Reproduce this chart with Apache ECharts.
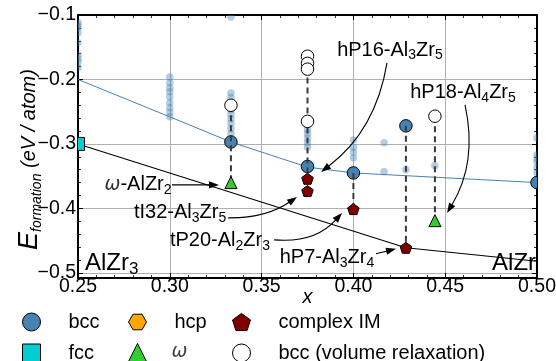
<!DOCTYPE html>
<html><head><meta charset="utf-8">
<script src="https://cdn.jsdelivr.net/npm/echarts@6/dist/echarts.min.js"></script>
<style>html,body{margin:0;padding:0;background:#fff}#c{width:556px;height:361px}</style>
</head><body><div id="c"></div>
<script>
// ---------- data ----------
const xTickLabels = ['0.25','0.30','0.35','0.40','0.45','0.50'];
const yTickLabels = ['−0.5','−0.4','−0.3','−0.2','−0.1'];

// other (higher-energy) structures, faint points
const otherPts = [
  [0.25,-0.112],[0.25,-0.116],[0.25,-0.120],[0.25,-0.128],[0.25,-0.143],[0.25,-0.162],[0.25,-0.168],[0.25,-0.173],[0.25,-0.182],
  [0.30,-0.196],[0.30,-0.205],[0.30,-0.213],[0.30,-0.219],[0.30,-0.227],[0.30,-0.236],[0.30,-0.244],[0.30,-0.251],[0.30,-0.258],
  [0.3333,-0.103],[0.3333,-0.221],[0.3333,-0.228],[0.3333,-0.247],[0.3333,-0.254],[0.3333,-0.261],[0.3333,-0.268],[0.3333,-0.276],[0.3333,-0.284],
  [0.375,-0.278],[0.375,-0.284],[0.375,-0.291],[0.375,-0.298],[0.375,-0.305],
  [0.4,-0.294],[0.4,-0.305],[0.4,-0.313],[0.4,-0.322],
  [0.4167,-0.298],[0.4167,-0.343],
  [0.4286,-0.340],
  [0.4444,-0.334],
  [0.5,-0.291],[0.5,-0.317],[0.5,-0.323],[0.5,-0.328],[0.5,-0.337],[0.5,-0.345]
];
const bccPts = [[0.3333,-0.297],[0.375,-0.335],[0.4,-0.345],[0.4286,-0.272],[0.5,-0.36]];
const fccPts = [[0.25,-0.30]];
const hcpPts = [];
const omegaPts = [[0.3333,-0.36],[0.4444,-0.419]];
const complexPts = [[0.375,-0.354],[0.375,-0.373],[0.4,-0.401],[0.4286,-0.461]];
const volRelaxPts = [[0.3333,-0.24],[0.375,-0.164],[0.375,-0.175],[0.375,-0.184],[0.375,-0.265],[0.4444,-0.257]];
const bccLinePts = [[0.25,-0.20],[0.30,-0.258],[0.3333,-0.297],[0.375,-0.336],[0.4,-0.345],[0.5,-0.36]];
const hullPts = [[0.25,-0.30],[0.4286,-0.461],[0.5,-0.482]];
// composition, top energy, bottom energy of dashed connectors
const dropLines = [[0.3333,-0.24,-0.36],[0.375,-0.166,-0.373],[0.4,-0.345,-0.401],[0.4286,-0.272,-0.461],[0.4444,-0.257,-0.419]];

// annotations
const annTexts = ['hP16-Al{s|3}Zr{s|5}','hP18-Al{s|4}Zr{s|5}','{w|ω}-AlZr{s|2}','tI32-Al{s|3}Zr{s|5}','tP20-Al{s|2}Zr{s|3}','hP7-Al{s|3}Zr{s|4}'];
const annTextAt = [[0.4199,-0.1543],[0.4597,-0.2209],[0.2827,-0.3636],[0.3056,-0.407],[0.3273,-0.4504],[0.3856,-0.4767]];
const annFrom = [[0.4183,-0.1744],[0.4608,-0.2395],[0.3012,-0.3636],[0.3317,-0.4147],[0.3568,-0.4488],[0.4123,-0.4705]];
const annTo = [[0.3824,-0.3434],[0.4510,-0.407],[0.3268,-0.3636],[0.3693,-0.3822],[0.3938,-0.407],[0.4232,-0.4628]];
const annRad = [0.2,0.2,0,-0.16,-0.25,0];
const phaseTexts = ['AlZr{s|3}','AlZr'];
const phaseAt = [[0.2538,-0.4854],[0.4995,-0.4854]];

// ---------- styling / helpers ----------
const FONT = 'Liberation Sans, Arial, Helvetica, sans-serif';
const C_BCC = '#4682B4', C_FCC = '#00CED1', C_HCP = '#FFA500', C_CIM = '#800000', C_OM = '#32CD32';
const PENT = 'path://M50,0 L97.55,34.55 L79.39,90.45 L20.61,90.45 L2.45,34.55 Z';
const HEX = 'path://M0,43.3 L25,0 L75,0 L100,43.3 L75,86.6 L25,86.6 Z';
const SQR = 'path://M0,0 L100,0 L100,100 L0,100 Z';
const TRI = 'path://M50,0 L100,100 L0,100 Z';

function regPoly(p, r, n, rot) {
  const pts = [];
  for (let i = 0; i < n; i++) {
    const a = rot + i * 2 * Math.PI / n;
    pts.push([p[0] + r * Math.sin(a), p[1] - r * Math.cos(a)]);
  }
  return pts;
}
const shapes = {
  circle: (p, s, st) => ({type:'circle', shape:{cx:p[0], cy:p[1], r:s/2}, style:st}),
  square: (p, s, st) => ({type:'rect', shape:{x:p[0]-s/2, y:p[1]-s/2, width:s, height:s}, style:st}),
  triangle: (p, s, st) => ({type:'polygon', shape:{points:[[p[0], p[1]-s/2],[p[0]+s/2, p[1]+s/2],[p[0]-s/2, p[1]+s/2]]}, style:st}),
  pentagon: (p, s, st) => ({type:'polygon', shape:{points:regPoly([p[0], p[1]+s*0.06], s*0.55, 5, 0)}, style:st}),
  hexagon: (p, s, st) => ({type:'polygon', shape:{points:regPoly(p, s*0.55, 6, Math.PI/2)}, style:st})
};
function markerSeries(name, data, shape, size, style, z) {
  return {
    type:'custom', name, data, z, clip:true,
    itemStyle:{color: style.fill},
    encode:{x:0, y:1},
    renderItem:(params, api) => {
      const p = api.coord([api.value(0), api.value(1)]);
      return shapes[shape](p, size, style);
    }
  };
}
const edge = {stroke:'#000', lineWidth:1};

function arrowEls(p0, p1, rad) {
  const dx = p1[0]-p0[0], dy = p1[1]-p0[1];
  const mx = (p0[0]+p1[0])/2, my = (p0[1]+p1[1])/2;
  const c = [mx + rad*dy, my - rad*dx];
  let tx = p1[0]-c[0], ty = p1[1]-c[1];
  const L = Math.hypot(tx, ty); tx /= L; ty /= L;
  const hl = 10, hw = 3.6;
  const base = [p1[0]-tx*hl, p1[1]-ty*hl];
  return [
    {type:'bezierCurve', shape:{x1:p0[0], y1:p0[1], x2:base[0]+tx*1, y2:base[1]+ty*1, cpx1:c[0], cpy1:c[1]}, style:{stroke:'#000', fill:null, lineWidth:1.1}},
    {type:'polygon', shape:{points:[p1,[base[0]-ty*hw, base[1]+tx*hw],[base[0]+ty*hw, base[1]-tx*hw]]}, style:{fill:'#000'}}
  ];
}

const subRich = {
  s:{fontSize:14, lineHeight:14, verticalAlign:'bottom', fontFamily:FONT, fill:'#000'},
  w:{fontSize:19, lineHeight:24, fontStyle:'italic', fontFamily:'DejaVu Sans', fill:'#333'}
};

const axisTickStyle = {show:true, inside:true, length:5, lineStyle:{color:'#000', width:1}};
const minorTickStyle = {show:true, splitNumber:5, length:3, lineStyle:{color:'#000', width:0.8}};
const axisLineStyle = {show:true, onZero:false, lineStyle:{color:'#000', width:2}};
const labelStyle = {fontSize:19.5, color:'#000', fontFamily:FONT};

const yBase = {type:'value', min:-0.508, max:-0.1, minInterval:0.1, maxInterval:0.1};
const xBase = {type:'value', min:0.25, max:0.5, interval:0.05};

function legendAt(name, icon, itemStyle, left, top) {
  return {
    data:[{name, icon, itemStyle}], left, top, orient:'vertical', selectedMode:false,
    itemWidth:18, itemHeight:18, padding:0, itemGap:0,
    formatter: n => n === 'ω' ? '{w|ω}' : '{t|' + n + '}',
    textStyle:{fontSize:20, color:'#000', fontFamily:FONT,
      rich:{
        t:{fontSize:20, color:'#000', fontFamily:FONT, padding:[0,0,0,23]},
        w:{fontSize:19, fontStyle:'italic', fontFamily:'DejaVu Sans', color:'#444', padding:[0,0,0,20]}
      }}
  };
}

const option = {
  animation:false,
  backgroundColor:'#fff',
  grid:{left:78, right:19, top:15, bottom:83, containLabel:false, outerBoundsMode:'none'},
  xAxis:[
    Object.assign({}, xBase, {
      position:'bottom',
      name:'x', nameLocation:'middle', nameGap:9, nameMoveOverlap:false,
      nameTextStyle:{fontSize:20, fontStyle:'italic', color:'#000', fontFamily:FONT},
      axisLine:axisLineStyle, axisTick:axisTickStyle, minorTick:minorTickStyle,
      splitLine:{show:true, lineStyle:{color:'#b0b0b0', width:1}},
      axisLabel:Object.assign({margin:-1, formatter:(v) => xTickLabels[Math.round((v-0.25)/0.05)] || ''}, labelStyle)
    }),
    Object.assign({}, xBase, {
      position:'top', axisLine:axisLineStyle, axisTick:axisTickStyle, minorTick:minorTickStyle,
      splitLine:{show:false}, axisLabel:{show:false}
    })
  ],
  yAxis:[
    Object.assign({}, yBase, {
      position:'left',
      name:'{E|E}{sub|formation}{n| (eV / atom)}', nameLocation:'middle', nameGap:34, nameMoveOverlap:false,
      nameTextStyle:{color:'#000', padding:[0,26,0,0], rich:{
        E:{fontSize:27, fontStyle:'italic', lineHeight:30, fontFamily:FONT, color:'#000'},
        sub:{fontSize:14, fontStyle:'italic', lineHeight:18, verticalAlign:'bottom', fontFamily:FONT, color:'#000'},
        n:{fontSize:20, fontStyle:'italic', lineHeight:30, fontFamily:FONT, color:'#000'}
      }},
      axisLine:axisLineStyle, axisTick:axisTickStyle, minorTick:minorTickStyle,
      splitLine:{show:true, lineStyle:{color:'#b0b0b0', width:1}},
      axisLabel:Object.assign({margin:2, showMinLabel:false,
        formatter:(v) => { const i = Math.round((v+0.5)/0.1); return Math.abs(v - (-0.5 + i*0.1)) < 1e-6 ? (yTickLabels[i] || '') : ''; }}, labelStyle)
    }),
    Object.assign({}, yBase, {
      position:'right', axisLine:axisLineStyle, axisTick:axisTickStyle, minorTick:minorTickStyle,
      splitLine:{show:false}, axisLabel:{show:false}
    })
  ],
  legend:[
    legendAt('bcc','circle',{color:C_BCC, borderColor:'#000', borderWidth:1}, 22, 312),
    legendAt('fcc',SQR,{color:C_FCC, borderColor:'#000', borderWidth:1}, 22, 343),
    legendAt('hcp',HEX,{color:C_HCP, borderColor:'#000', borderWidth:1}, 128, 312),
    legendAt('ω',TRI,{color:C_OM, borderColor:'#000', borderWidth:1}, 128, 343),
    legendAt('complex IM',PENT,{color:C_CIM, borderColor:'#000', borderWidth:1}, 232, 312),
    legendAt('bcc (volume relaxation)','circle',{color:'#fff', borderColor:'#000', borderWidth:1}, 232, 343)
  ],
  series:[
    markerSeries('others', otherPts, 'circle', 7.5, {fill:C_BCC, opacity:0.4}, 1),
    {type:'line', name:'bcc-line', data:bccLinePts, showSymbol:false, symbol:'none', z:2, silent:true,
      lineStyle:{color:C_BCC, width:1}},
    {type:'line', name:'hull', data:hullPts, showSymbol:false, symbol:'none', z:2, silent:true,
      lineStyle:{color:'#000', width:1.1}},
    markerSeries('bcc', bccPts, 'circle', 12.5, Object.assign({fill:C_BCC}, edge), 3),
    {type:'custom', name:'drops', data:dropLines, z:4, silent:true,
      renderItem:(params, api) => {
        const a = api.coord([api.value(0), api.value(1)]);
        const b = api.coord([api.value(0), api.value(2)]);
        return {type:'line', shape:{x1:a[0], y1:a[1], x2:b[0], y2:b[1]},
          style:{stroke:'#3a3a3a', lineWidth:2, lineDash:[6,4]}};
      }},
    markerSeries('fcc', fccPts, 'square', 13, Object.assign({fill:C_FCC}, edge), 5),
    markerSeries('hcp', hcpPts, 'hexagon', 12, Object.assign({fill:C_HCP}, edge), 5),
    markerSeries('ω', omegaPts, 'triangle', 12, Object.assign({fill:C_OM}, edge), 5),
    markerSeries('complex IM', complexPts, 'pentagon', 11, Object.assign({fill:C_CIM}, edge), 5),
    markerSeries('bcc (volume relaxation)', volRelaxPts, 'circle', 12.5, Object.assign({fill:'#fff'}, edge), 5),
    {type:'custom', name:'annotations', data:annTextAt, z:6, silent:true,
      renderItem:(params, api) => {
        const i = params.dataIndex;
        const t = api.coord(annTextAt[i]);
        const els = arrowEls(api.coord(annFrom[i]), api.coord(annTo[i]), annRad[i]);
        els.push({type:'text', style:{text:annTexts[i], x:t[0], y:t[1], align:'center', verticalAlign:'middle',
          fontSize:20, lineHeight:24, fontFamily:FONT, fill:'#000', rich:subRich}});
        return {type:'group', children:els};
      }},
    {type:'custom', name:'phases', data:phaseAt, z:6, silent:true,
      renderItem:(params, api) => {
        const i = params.dataIndex;
        const t = api.coord(phaseAt[i]);
        return {type:'text', style:{text:phaseTexts[i], x:t[0], y:t[1], align: i === 0 ? 'left' : 'right', verticalAlign:'middle',
          fontSize:24, lineHeight:28, fontFamily:FONT, fill:'#000',
          rich:{s:{fontSize:17, lineHeight:17, verticalAlign:'bottom', fontFamily:FONT, fill:'#000'}}}};
      }}
  ]
};
const chart = echarts.init(document.getElementById('c'), null, {renderer:'canvas'});
chart.setOption(option);
</script></body></html>
